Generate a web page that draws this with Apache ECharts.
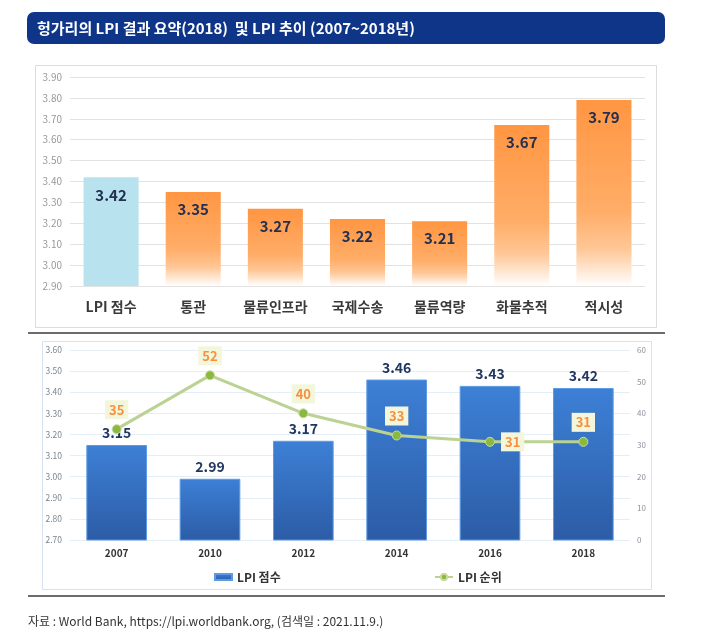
<!DOCTYPE html>
<html>
<head>
<meta charset="utf-8">
<script src="https://cdn.jsdelivr.net/npm/echarts@6/dist/echarts.min.js"></script>
<style>
html,body{margin:0;padding:0;background:#fff;}
#c{width:704px;height:635px;}
</style>
</head>
<body>
<div id="c"></div>
<script>
const titleText = '헝가리의 LPI 결과 요약(2018)  및 LPI 추이 (2007~2018년)';
const sourceText = '자료 : World Bank, https://lpi.worldbank.org, (검색일 : 2021.11.9.)';
const topCategories = ['LPI 점수', '통관', '물류인프라', '국제수송', '물류역량', '화물추적', '적시성'];
const topScores = [3.42, 3.35, 3.27, 3.22, 3.21, 3.67, 3.79];
const years = ['2007', '2010', '2012', '2014', '2016', '2018'];
const lpiScores = [3.15, 2.99, 3.17, 3.46, 3.43, 3.42];
const lpiRanks = [35, 52, 40, 33, 31, 31];

const FONT = '"Noto Sans CJK KR", "Noto Sans", sans-serif';
const chart = echarts.init(document.getElementById('c'), null, {renderer: 'canvas'});

const orangeGrad = new echarts.graphic.LinearGradient(0, 0, 0, 1, [
  {offset: 0, color: '#FF9642'},
  {offset: 0.6, color: '#FFAD68'},
  {offset: 0.8, color: '#FFC796'},
  {offset: 1, color: '#FFFFFF'}
]);
const blueGrad = new echarts.graphic.LinearGradient(0, 0, 0, 1, [
  {offset: 0, color: '#3D80D6'},
  {offset: 1, color: '#2C5CA6'}
]);

const topData = topScores.map((v, i) => i === 0
  ? {value: v, itemStyle: {color: '#B8E2EE'}}
  : {value: v, itemStyle: {color: orangeGrad}});

const rankData = lpiRanks.map((v, i) => i === 4
  ? {value: v, label: {position: 'right', distance: 6}}
  : {value: v});

const option = {
  backgroundColor: '#fff',
  animation: false,
  textStyle: {fontFamily: FONT},
  graphic: [
    {type: 'rect', shape: {x: 27, y: 12, width: 638, height: 32, r: 7}, style: {fill: '#0F3589'}},
    {type: 'text', x: 37, y: 28, style: {text: titleText, fill: '#fff', font: 'bold 15px ' + FONT, verticalAlign: 'middle'}},
    {type: 'rect', shape: {x: 35.5, y: 65.5, width: 621, height: 262}, style: {fill: 'none', stroke: '#DCDCDC', lineWidth: 1}},
    {type: 'line', shape: {x1: 28, y1: 333, x2: 665, y2: 333}, style: {stroke: '#3a3a3a', lineWidth: 1.5}},
    {type: 'rect', shape: {x: 42.5, y: 341.5, width: 609, height: 248}, style: {fill: 'none', stroke: '#D6E3EE', lineWidth: 1}},
    {type: 'line', shape: {x1: 28, y1: 596, x2: 665, y2: 596}, style: {stroke: '#3a3a3a', lineWidth: 1.5}},
    {type: 'text', x: 28, y: 621, style: {text: sourceText, fill: '#333', font: '12px ' + FONT, verticalAlign: 'middle'}}
  ],
  grid: [
    {left: 70, right: 59, top: 77, height: 209},
    {left: 70, right: 74, top: 350, height: 190}
  ],
  legend: [
    {left: 209, top: 566, data: ['LPI 점수'], itemWidth: 17, itemHeight: 6, icon: 'rect',
     textStyle: {fontSize: 12, fontWeight: 'bold', color: '#333', fontFamily: FONT}, itemGap: 2},
    {left: 429, top: 566, data: ['LPI 순위'], itemWidth: 18, itemHeight: 8,
     textStyle: {fontSize: 12, fontWeight: 'bold', color: '#333', fontFamily: FONT}}
  ],
  xAxis: [
    {type: 'category', gridIndex: 0, data: topCategories,
     axisLine: {show: false}, axisTick: {show: false},
     axisLabel: {interval: 0, hideOverlap: false, margin: 14, fontSize: 14, fontWeight: 'bold', color: '#3a3a3a', fontFamily: FONT}},
    {type: 'category', gridIndex: 1, data: years,
     axisLine: {show: false}, axisTick: {show: false},
     axisLabel: {interval: 0, margin: 8, fontSize: 10, fontWeight: 'bold', color: '#333', fontFamily: FONT}}
  ],
  yAxis: [
    {type: 'value', gridIndex: 0, min: 2.9, max: 3.9, interval: 0.1,
     axisLine: {show: false}, axisTick: {show: false},
     axisLabel: {margin: 8, fontSize: 10, color: '#999', formatter: v => v.toFixed(2), fontFamily: FONT},
     splitLine: {lineStyle: {color: '#E2E2E2', width: 1}}},
    {type: 'value', gridIndex: 1, min: 2.7, max: 3.6, interval: 0.1,
     axisLine: {show: false}, axisTick: {show: false},
     axisLabel: {margin: 8, fontSize: 8.5, color: '#7d8590', formatter: v => v.toFixed(2), fontFamily: FONT},
     splitLine: {lineStyle: {color: '#E4EEF6', width: 1}}},
    {type: 'value', gridIndex: 1, position: 'right', min: 0, max: 60, interval: 10,
     axisLine: {show: false}, axisTick: {show: false},
     axisLabel: {margin: 7, fontSize: 8, color: '#8a919a', fontFamily: FONT},
     splitLine: {show: false}}
  ],
  series: [
    {type: 'bar', xAxisIndex: 0, yAxisIndex: 0, data: topData, barWidth: '67%',
     label: {show: true, position: 'insideTop', distance: 10, fontSize: 15, fontWeight: 'bold',
             color: '#23304F', formatter: p => p.value.toFixed(2), fontFamily: FONT}},
    {type: 'bar', name: 'LPI 점수', xAxisIndex: 1, yAxisIndex: 1, data: lpiScores, barWidth: '65%',
     itemStyle: {color: blueGrad, borderColor: '#5E9BE2', borderWidth: 1},
     label: {show: true, position: 'top', distance: 5, fontSize: 14, fontWeight: 'bold',
             color: '#223861', formatter: p => p.value.toFixed(2), fontFamily: FONT}},
    {type: 'line', name: 'LPI 순위', xAxisIndex: 1, yAxisIndex: 2, data: rankData,
     symbol: 'circle', symbolSize: 9, z: 5,
     lineStyle: {color: '#BBD293', width: 3},
     itemStyle: {color: '#8BB83F', borderColor: '#C8DCA2', borderWidth: 1},
     label: {show: true, position: 'top', distance: 5, fontSize: 13, fontWeight: 'bold',
             color: '#F5913E', backgroundColor: '#F4F6DC', padding: [3, 4], fontFamily: FONT}}
  ]
};
chart.setOption(option);
</script>
</body>
</html>
